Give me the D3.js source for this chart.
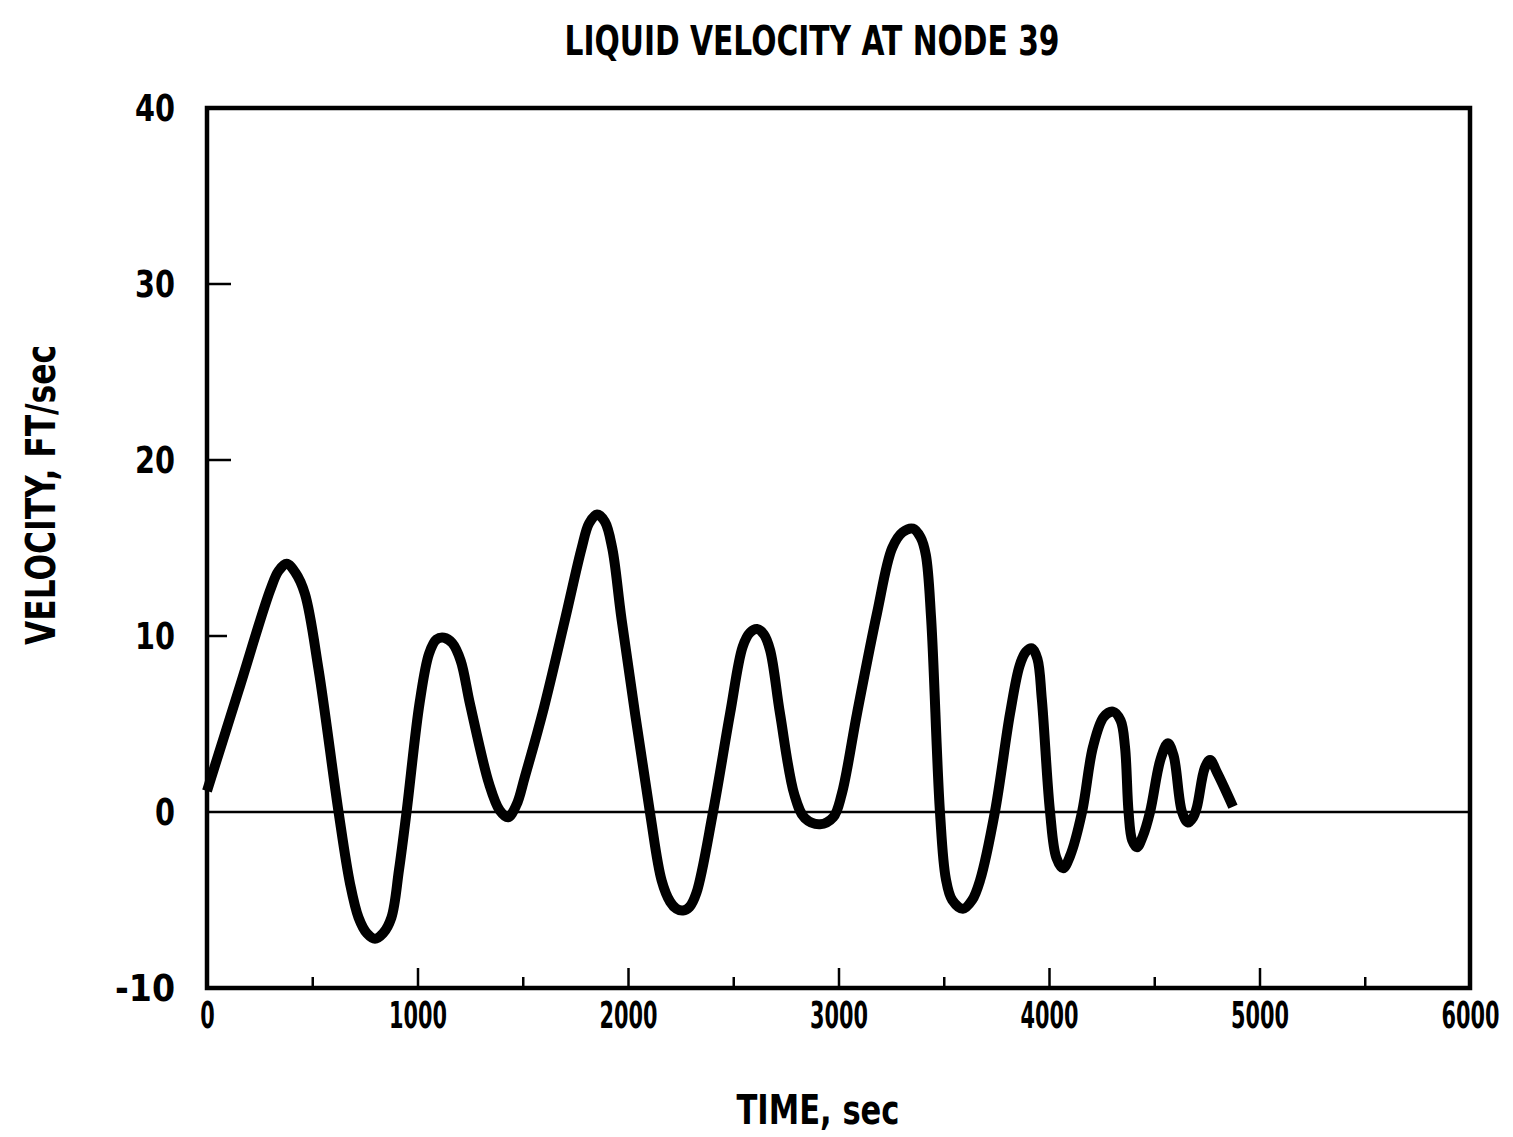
<!DOCTYPE html>
<html>
<head>
<meta charset="utf-8">
<script src="https://cdn.jsdelivr.net/npm/d3@7"></script>
<style>
  body { margin: 0; background: #fff; }
  text { font-family: "DejaVu Sans", sans-serif; fill: #000; }
</style>
</head>
<body>
<div id="chart"></div>
<script>
// values (time in sec, velocity in ft/sec)
var times = [0, 150, 300, 340, 378, 420, 465, 530, 625, 680, 720, 760, 798,
  836, 876, 912, 948, 1010, 1055, 1090, 1126, 1165, 1205, 1250, 1340, 1390, 1430, 1470, 1510,
  1600, 1700, 1780, 1815, 1853, 1890, 1925, 1970, 2104, 2160, 2200, 2230, 2261,
  2292, 2325, 2404, 2485, 2545, 2580, 2613, 2645, 2675, 2722, 2790, 2840, 2912, 2975, 3015,
  3088, 3183, 3255, 3305, 3354, 3390, 3415, 3440, 3482, 3510, 3540, 3591,
  3635, 3672, 3743, 3815, 3860, 3890, 3919, 3945, 3966, 4005, 4035, 4067,
  4100, 4157, 4209, 4260, 4304, 4340, 4361, 4378, 4395, 4418,
  4445, 4480, 4530, 4565, 4592, 4632, 4660, 4685, 4703, 4740, 4765, 4800, 4874];
var velocity = [1.2, 6.9, 12.6, 13.7, 14.1, 13.6, 12.4, 8.1, 0, -4.1, -6.0, -6.9, -7.2,
  -6.9, -6.0, -3.3, 0, 6.2, 9.0, 9.8, 9.9, 9.6, 8.6, 6.1, 1.6, 0.1, -0.3, 0.4, 2.0,
  5.9, 10.9, 15.0, 16.4, 16.9, 16.5, 15.0, 10.9, 0, -3.9, -5.1, -5.5, -5.6,
  -5.4, -4.6, 0, 5.6, 9.4, 10.2, 10.4, 10.1, 9.2, 5.6, 1.0, -0.35, -0.7, -0.3, 1.0,
  5.6, 11.3, 15.0, 15.9, 16.1, 15.6, 14.6, 11.0, 0, -3.8, -5.0, -5.5,
  -5.0, -3.9, 0, 5.6, 8.3, 9.1, 9.3, 8.7, 6.4, 0, -2.6, -3.2,
  -2.5, 0, 3.7, 5.4, 5.7, 5.2, 3.7, 0, -1.6, -2.0,
  -1.4, 0, 3.0, 3.9, 3.2, 0, -0.6, -0.3, 0.3, 2.5, 2.95, 2.2, 0.3];

var xMajor = [0, 1000, 2000, 3000, 4000, 5000, 6000];
var xMinor = [500, 1500, 2500, 3500, 4500, 5500];
var yTicks = [-10, 0, 10, 20, 30, 40];

var width = 1513,
    height = 1137;
var plotLeft = 207, plotRight = 1470, plotTop = 108, plotBottom = 988;

var svg = d3.select("#chart").append("svg")
    .attr("width", width)
    .attr("height", height);

var x = d3.scaleLinear().domain([0, 6000]).range([plotLeft, plotRight]);
var y = d3.scaleLinear().domain([-10, 40]).range([plotBottom, plotTop]);

// squeeze the text to look like the old condensed lettering
function narrow(sel, perChar) {
  sel.each(function () {
    var t = d3.select(this);
    t.attr("textLength", t.text().length * perChar).attr("lengthAdjust", "spacingAndGlyphs");
  });
}

// major x ticks (inward) + labels
svg.append("g")
    .attr("transform", `translate(0,${plotBottom})`)
    .call(d3.axisBottom(x).tickValues(xMajor).tickSize(-20).tickPadding(13).tickFormat(d => String(d)))
    .call(g => g.select(".domain").remove())
    .call(g => g.selectAll("line").attr("stroke-width", 2.5))
    .call(g => g.selectAll("text").attr("font-size", 38).attr("font-weight", "bold").call(narrow, 14.5));

svg.append("g")
    .attr("transform", `translate(0,${plotBottom})`)
    .call(d3.axisBottom(x).tickValues(xMinor).tickSize(-11).tickFormat(""))
    .call(g => g.select(".domain").remove())
    .call(g => g.selectAll("line").attr("stroke-width", 2.5));

// y ticks
svg.append("g")
    .attr("transform", `translate(${plotLeft},0)`)
    .call(d3.axisLeft(y).tickValues(yTicks).tickSize(0).tickPadding(32).tickFormat(d => String(d)))
    .call(g => g.select(".domain").remove())
    .call(g => g.selectAll("text").attr("font-size", 38).attr("font-weight", "bold").call(narrow, 20));

svg.append("g")
    .selectAll("line")
    .data([10, 20, 30])
    .enter().append("line")
      .attr("x1", plotLeft)
      .attr("x2", d => plotLeft + (d == 10 ? 20 : 24))
      .attr("y1", d => y(d))
      .attr("y2", d => y(d))
      .attr("stroke", "black")
      .attr("stroke-width", 2.5);

// zero line
svg.append("line")
    .attr("x1", x(0)).attr("x2", x(6000))
    .attr("y1", y(0)).attr("y2", y(0))
    .attr("stroke", "black")
    .attr("stroke-width", 2.5);

// frame
svg.append("rect")
    .attr("x", plotLeft).attr("y", plotTop)
    .attr("width", plotRight - plotLeft).attr("height", plotBottom - plotTop)
    .attr("fill", "none")
    .attr("stroke", "black")
    .attr("stroke-width", 4.5);

// curve
var line = d3.line()
    .x(function (d, i) { return x(times[i]); })
    .y(function (d) { return y(d); })
    .curve(d3.curveCatmullRom.alpha(0.5));

svg.append("path")
    .datum(velocity)
    .attr("fill", "none")
    .attr("stroke", "black")
    .attr("stroke-width", 10)
    .attr("stroke-linejoin", "round")
    .attr("d", line);

// titles
svg.append("text")
    .attr("x", 812).attr("y", 55)
    .attr("text-anchor", "middle")
    .attr("font-size", 40)
    .attr("textLength", 495)
    .attr("lengthAdjust", "spacingAndGlyphs")
    .attr("font-weight", "bold")
    .text("LIQUID VELOCITY AT NODE 39");

svg.append("text")
    .attr("x", 818).attr("y", 1124)
    .attr("text-anchor", "middle")
    .attr("font-size", 40)
    .attr("font-weight", "bold")
    .attr("textLength", 163)
    .attr("lengthAdjust", "spacingAndGlyphs")
    .text("TIME,  sec");

svg.append("text")
    .attr("transform", "translate(55,495) rotate(-90)")
    .attr("text-anchor", "middle")
    .attr("font-size", 40)
    .attr("font-weight", "bold")
    .attr("textLength", 300)
    .attr("lengthAdjust", "spacingAndGlyphs")
    .text("VELOCITY,  FT/sec");
</script>
</body>
</html>
